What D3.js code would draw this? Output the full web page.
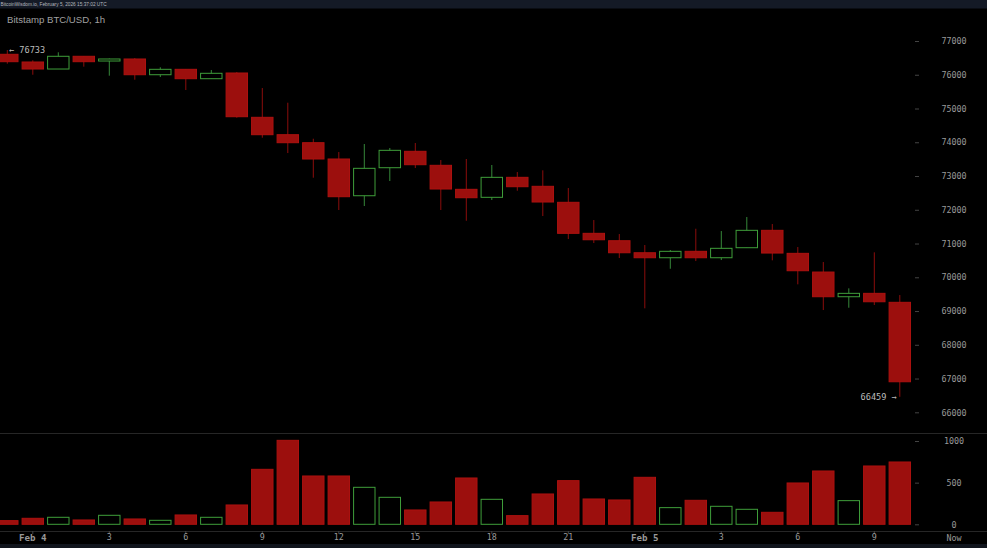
<!DOCTYPE html>
<html>
<head>
<meta charset="utf-8">
<title>Bitstamp BTC/USD, 1h</title>
<script src="https://cdn.jsdelivr.net/npm/d3@7"></script>
<style>
   html, body { margin: 0; padding: 0; background: #000; overflow: hidden; }
   svg { display: block; }
   .axis path { display: none; }
   .axis line { stroke: #444; }
   .axis text { font-family: "DejaVu Sans Mono", monospace; font-size: 8.4px; fill: #999; }
</style>
</head>
<body>
<div id="chart"></div>
<script>
const Width = 987, Height = 548;

const hours = d3.range(36);
const opens = [76606,76378,76170,76547,76407,76467,76001,76161,75883,76052,74739,74224,73987,73504,72416,73246,73732,73317,72606,72369,72961,72695,72221,71302,71083,70727,70579,70769,70579,70876,71391,70709,70155,69424,69524,69258];
const highs = [76733,76428,76665,76547,76481,76496,76221,76161,76141,76081,75607,75172,74105,73711,73948,73830,73978,73474,73504,73326,73118,73169,72644,71696,71281,70955,70807,71438,71370,71785,71578,70896,70452,69672,70739,69474];
const lows = [76327,76001,76170,76239,75972,75853,75933,75548,75883,74727,74135,73681,72950,71993,72111,72852,73237,71993,71675,72289,72564,71815,71133,71015,70570,69080,70253,70481,70511,70876,70502,69791,69030,69098,69178,66459];
const closes = [76387,76170,76547,76387,76467,76001,76161,75883,76043,74757,74224,73987,73504,72387,73228,73761,73335,72615,72357,72961,72683,72230,71302,71112,70727,70579,70769,70579,70858,71391,70718,70194,69424,69524,69275,66905];
const volumes = [44,72,84,52,108,64,48,112,84,232,660,1008,580,580,444,324,172,268,556,300,104,364,524,304,292,564,200,288,216,180,144,496,640,284,700,748];

const priceTicks = [66000,67000,68000,69000,70000,71000,72000,73000,74000,75000,76000,77000];
const volumeTicks = [0,500,1000];
const hourTicks = [1,4,7,10,13,16,19,22,25,28,31,34];
const hourLabels = ["Feb 4","3","6","9","12","15","18","21","Feb 5","3","6","9"];

const Red = "#9c0f0d", RedEdge = "#ad1210", RedWick = "#8c0d0c", Green = "#3f9e3a", GreenWick = "#36883a";

const svg = d3.select("#chart").append("svg")
   .attr("width", Width)
   .attr("height", Height)
   .attr("viewBox", `0 0 ${Width} ${Height}`);

svg.append("rect").attr("width", Width).attr("height", Height).attr("fill", "#000");

// top and bottom strips from the screenshot tool
svg.append("rect").attr("width", Width).attr("height", 8.5).attr("fill", "#141a26");
svg.append("rect").attr("y", 544).attr("width", Width).attr("height", 4).attr("fill", "#11151d");
svg.append("text")
   .attr("x", 0.5).attr("y", 6.3)
   .attr("font-family", "Liberation Sans, sans-serif")
   .attr("font-size", 4.75)
   .attr("fill", "#b4b8be")
   .text("BitcoinWisdom.io, February 5, 2026 15:37:02 UTC");

const x = d3.scaleBand().domain(hours).range([-5.45, 912.55]).paddingInner(0.16).paddingOuter(0.08);
const cx = i => x(i) + x.bandwidth() / 2;
const y = d3.scaleLinear().domain([66000, 77000]).range([412.3, 41]);
const v = d3.scaleLinear().domain([0, 1000]).range([524.3, 441]);

// panel rules
[433, 531].forEach(ry => {
   svg.append("line")
      .attr("x1", 0).attr("x2", Width)
      .attr("y1", ry + 0.5).attr("y2", ry + 0.5)
      .attr("stroke", "#262626");
});

const candles = svg.append("g").selectAll("g").data(hours).enter().append("g");

candles.append("line")
   .attr("x1", cx).attr("x2", cx)
   .attr("y1", i => y(highs[i]))
   .attr("y2", i => y(lows[i]))
   .attr("stroke", i => closes[i] >= opens[i] ? GreenWick : RedWick);

candles.append("rect")
   .attr("x", i => x(i))
   .attr("width", x.bandwidth())
   .attr("y", i => y(Math.max(opens[i], closes[i])))
   .attr("height", i => Math.abs(y(opens[i]) - y(closes[i])))
   .attr("fill", i => closes[i] >= opens[i] ? "#000" : Red)
   .attr("stroke", i => closes[i] >= opens[i] ? Green : RedEdge);

svg.append("g").selectAll("rect").data(hours).enter().append("rect")
   .attr("x", i => x(i))
   .attr("width", x.bandwidth())
   .attr("y", i => v(volumes[i]))
   .attr("height", i => v(0) - v(volumes[i]))
   .attr("fill", i => closes[i] >= opens[i] ? "#000" : Red)
   .attr("stroke", i => closes[i] >= opens[i] ? Green : RedEdge);

const priceAxis = d3.axisRight(y).tickValues(priceTicks).tickSize(4).tickFormat(d3.format("d"));
svg.append("g").attr("class", "axis").attr("transform", "translate(915,0)").call(priceAxis)
   .selectAll("text").attr("text-anchor", "middle").attr("x", 39);

const volumeAxis = d3.axisRight(v).tickValues(volumeTicks).tickSize(4).tickFormat(d3.format("d"));
svg.append("g").attr("class", "axis").attr("transform", "translate(915,0)").call(volumeAxis)
   .selectAll("text").attr("text-anchor", "middle").attr("x", 39);

const hourAxis = d3.axisBottom(x)
   .tickValues(hourTicks)
   .tickSize(3)
   .tickPadding(0.5)
   .tickFormat(d => hourLabels[hourTicks.indexOf(d)]);
const hourGroup = svg.append("g").attr("class", "axis").attr("transform", "translate(0,531)").call(hourAxis);
hourGroup.selectAll("text")
   .filter(d => hourLabels[hourTicks.indexOf(d)].startsWith("Feb"))
   .style("font-weight", "bold")
   .style("font-size", "9.2px");

svg.append("text")
   .attr("x", 954).attr("y", 540.5)
   .attr("text-anchor", "middle")
   .attr("font-family", "DejaVu Sans Mono, monospace")
   .attr("font-size", 8.4)
   .attr("fill", "#999")
   .text("Now");

svg.append("text")
   .attr("x", 7).attr("y", 23.3)
   .attr("font-family", "Liberation Sans, sans-serif")
   .attr("font-size", 9.6)
   .attr("fill", "#a0a0a0")
   .text("Bitstamp BTC/USD, 1h");

// extremes of the visible range
const hiIndex = d3.maxIndex(highs), loIndex = d3.minIndex(lows);
svg.append("text")
   .attr("x", 9).attr("y", y(highs[hiIndex]) + 3)
   .attr("font-family", "DejaVu Sans Mono, monospace")
   .attr("font-size", 8.6)
   .attr("fill", "#bbb")
   .text("\u2190 " + highs[hiIndex]);
svg.append("text")
   .attr("x", cx(loIndex) - 3).attr("y", y(lows[loIndex]) + 3)
   .attr("text-anchor", "end")
   .attr("font-family", "DejaVu Sans Mono, monospace")
   .attr("font-size", 8.6)
   .attr("fill", "#bbb")
   .text(lows[loIndex] + " \u2192");
</script>
</body>
</html>
